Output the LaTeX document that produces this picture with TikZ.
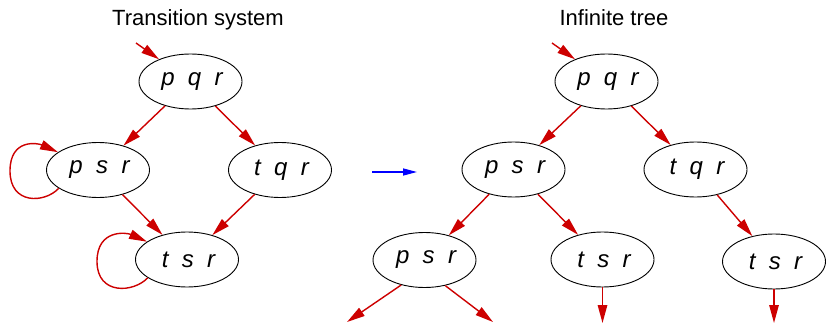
\documentclass[tikz,border=0pt]{standalone}
\usepackage{fontspec}
\setmainfont{Liberation Sans}
\usetikzlibrary{arrows.meta,shapes.geometric}
\definecolor{edgered}{RGB}{205,0,0}
\definecolor{arrowblue}{RGB}{0,0,255}
\begin{document}
\begin{tikzpicture}[x=1pt,y=-1pt,
  state/.style={ellipse,draw=black,line width=0.9pt,minimum width=103pt,
    minimum height=55pt,inner sep=0pt,font=\fontsize{24}{28}\selectfont\itshape,
    execute at begin node=\hspace{3pt}},
  edge/.style={draw=edgered,line width=1.4pt,-{Triangle[length=18pt,width=9.5pt]}},
  maparrow/.style={draw=arrowblue,line width=1.4pt,-{Triangle[length=14pt,width=7pt]}},
  heading/.style={font=\fontsize{22}{26}\selectfont,anchor=base}]
\useasboundingbox (0,0) rectangle (826,323);

% headings
\node[heading] (h1) at (198,26) {Transition system};
\node[heading] (h2) at (614,26) {Infinite tree};

% transition system
\node[state] (pqrA) at (190.5,81.5) {p~~q~~r};
\node[state] (psrA) at (98,170) {p~~s~~r};
\node[state] (tqrA) at (280,170) {t~~q~~r};
\node[state] (tsrA) at (187,259.5) {t~~s~~r};
\coordinate (initA) at (136,43);

\draw[edge] (initA) -- (pqrA);
\draw[edge] (pqrA) -- (psrA);
\draw[edge] (pqrA) -- (tqrA);
\draw[edge] (psrA) -- (tsrA);
\draw[edge] (tqrA) -- (tsrA);
\draw[edge] (psrA.205) .. controls +(-14,15) and +(0,34) .. ([shift={(-88,1)}]psrA.center)
  .. controls +(0,-33) and +(-20,-9) .. (psrA.156);
\draw[edge] (tsrA.205) .. controls +(-14,15) and +(0,34) .. ([shift={(-90,2)}]tsrA.center)
  .. controls +(0,-33) and +(-20,-9) .. (tsrA.156);

% unfolding arrow
\coordinate (mapL) at (372,172);
\coordinate (mapR) at (417,172);
\draw[maparrow] (mapL) -- (mapR);

% infinite tree
\node[state] (pqrB) at (606.5,81.5) {p~~q~~r};
\node[state] (psrB) at (513.5,169.5) {p~~s~~r};
\node[state] (tqrB) at (695.5,169.5) {t~~q~~r};
\node[state] (psrC) at (424.5,260) {p~~s~~r};
\node[state] (tsrC) at (602.5,259.5) {t~~s~~r};
\node[state] (tsrD) at (774,261.5) {t~~s~~r};
\coordinate (initB) at (552,43);
\coordinate (leafA) at (347,322);
\coordinate (leafB) at (493,322);
\coordinate (leafC) at (602.5,323);
\coordinate (leafD) at (774,323);

\draw[edge] (initB) -- (pqrB);
\draw[edge] (pqrB) -- (psrB);
\draw[edge] (pqrB) -- (tqrB);
\draw[edge] (psrB) -- (psrC);
\draw[edge] (psrB) -- (tsrC);
\draw[edge] (tqrB) -- (tsrD);
\draw[edge] (psrC.227) -- (leafA);
\draw[edge] (psrC.309) -- (leafB);
\draw[edge] (tsrC.south) -- (leafC);
\draw[edge] (tsrD.south) -- (leafD);
\end{tikzpicture}
\end{document}
